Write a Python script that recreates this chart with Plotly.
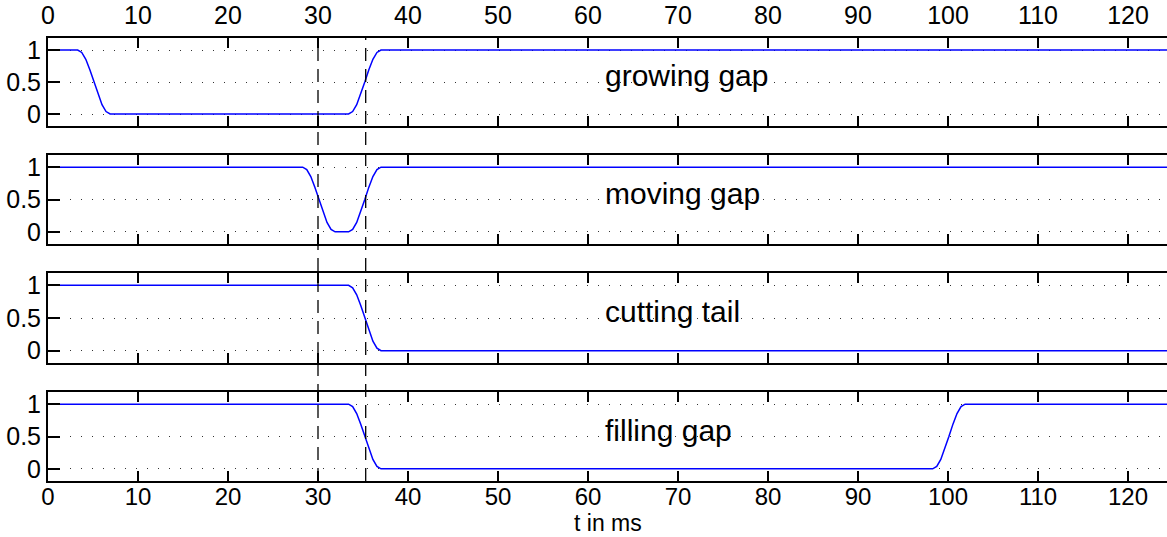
import plotly.graph_objects as go
from plotly.subplots import make_subplots

# ---- data ----
growing_t = [0, 3.3, 3.75, 4.2, 4.65, 5.1, 5.55, 6.0, 6.45, 6.9,
             33.4, 33.85, 34.3, 34.75, 35.2, 35.65, 36.1, 36.55, 37.0, 125]
growing_y = [1, 1, 0.962, 0.854, 0.691, 0.5, 0.309, 0.146, 0.038, 0,
             0, 0.038, 0.146, 0.309, 0.5, 0.691, 0.854, 0.962, 1, 1]

moving_t = [0, 28.3, 28.75, 29.2, 29.65, 30.1, 30.55, 31.0, 31.45, 31.9,
            33.4, 33.85, 34.3, 34.75, 35.2, 35.65, 36.1, 36.55, 37.0, 125]
moving_y = [1, 1, 0.962, 0.854, 0.691, 0.5, 0.309, 0.146, 0.038, 0,
            0, 0.038, 0.146, 0.309, 0.5, 0.691, 0.854, 0.962, 1, 1]

cutting_t = [0, 33.4, 33.85, 34.3, 34.75, 35.2, 35.65, 36.1, 36.55, 37.0, 125]
cutting_y = [1, 1, 0.962, 0.854, 0.691, 0.5, 0.309, 0.146, 0.038, 0, 0]

filling_t = [0, 33.4, 33.85, 34.3, 34.75, 35.2, 35.65, 36.1, 36.55, 37.0,
             98.3, 98.75, 99.2, 99.65, 100.1, 100.55, 101.0, 101.45, 101.9, 125]
filling_y = [1, 1, 0.962, 0.854, 0.691, 0.5, 0.309, 0.146, 0.038, 0,
             0, 0.038, 0.146, 0.309, 0.5, 0.691, 0.854, 0.962, 1, 1]

labels = ["growing gap", "moving gap", "cutting tail", "filling gap"]
label_t = 61.7
label_y = 0.6
marker_t = [30, 35.3]

x_ticks = [0, 10, 20, 30, 40, 50, 60, 70, 80, 90, 100, 110, 120]
y_ticks = [0, 0.5, 1]
y_ticktext = ["0", "0.5", "1"]
x_title = "t in ms"

series_t = [growing_t, moving_t, cutting_t, filling_t]
series_y = [growing_y, moving_y, cutting_y, filling_y]

FONT = "Liberation Sans, Arial, sans-serif"
W, H = 1167, 537
ML, MR, MT, MB = 48, 0, 38, 56
plot_h = H - MT - MB
panels_px = [(38, 126), (155, 244), (273, 363), (392, 481)]
x_max = (W - ML) / 9.0

fig = make_subplots(rows=4, cols=1, shared_xaxes=False, vertical_spacing=0.05)

for i in range(4):
    fig.add_trace(go.Scatter(x=series_t[i], y=series_y[i], mode="lines",
                             line=dict(color="#0000ff", width=1.5),
                             showlegend=False, hoverinfo="skip"),
                  row=i + 1, col=1)

for i, (top, bot) in enumerate(panels_px):
    d0 = (H - MB - bot) / plot_h
    d1 = (H - MB - top) / plot_h
    n = "" if i == 0 else str(i + 1)
    xa = dict(domain=[0, 1], range=[0, x_max], tickvals=x_ticks,
              ticks="inside", ticklen=10, tickwidth=1.5, tickcolor="black",
              showline=True, linecolor="black", linewidth=2, mirror="ticks",
              showgrid=False, zeroline=False,
              tickfont=dict(family=FONT, size=25 if i == 0 else 24, color="black"),
              showticklabels=(i == 0 or i == 3), anchor="y" + n)
    if i == 0:
        xa["side"] = "top"
        xa["ticklabelstandoff"] = 2
    if i == 3:
        xa["ticklabelstandoff"] = -7
    ya = dict(domain=[d0, d1], range=[-0.1875, 1.1875], tickvals=y_ticks,
              ticktext=y_ticktext, ticks="inside", ticklen=12, tickwidth=1.5,
              tickcolor="black", showline=True, linecolor="black", linewidth=2,
              mirror=False, showgrid=True, gridcolor="#333333", gridwidth=1,
              griddash="1px,10px", zeroline=False,
              tickfont=dict(family=FONT, size=25, color="black"),
              anchor="x" + n)
    fig.layout["xaxis" + n].update(xa)
    fig.layout["yaxis" + n].update(ya)
    fig.add_annotation(x=label_t, y=label_y, xref="x" + n, yref="y" + n,
                       text=labels[i], showarrow=False, xanchor="left",
                       yanchor="middle",
                       font=dict(family=FONT, size=30, color="black"))

# x axis title below the bottom panel
fig.add_annotation(x=0.5, xref="paper", y=-(523 - (H - MB)) / plot_h, yref="paper",
                   text=x_title, showarrow=False, xanchor="center", yanchor="middle",
                   font=dict(family=FONT, size=23, color="black"))

for t in marker_t:
    fig.add_shape(type="line", xref="x", yref="paper", x0=t, x1=t, y0=0, y1=1,
                  line=dict(color="black", width=1.3, dash="13px,8px"))

fig.update_layout(width=W, height=H, margin=dict(l=ML, r=MR, t=MT, b=MB),
                  paper_bgcolor="white", plot_bgcolor="white",
                  font=dict(family=FONT, color="black"))

fig.write_html("out.html")
